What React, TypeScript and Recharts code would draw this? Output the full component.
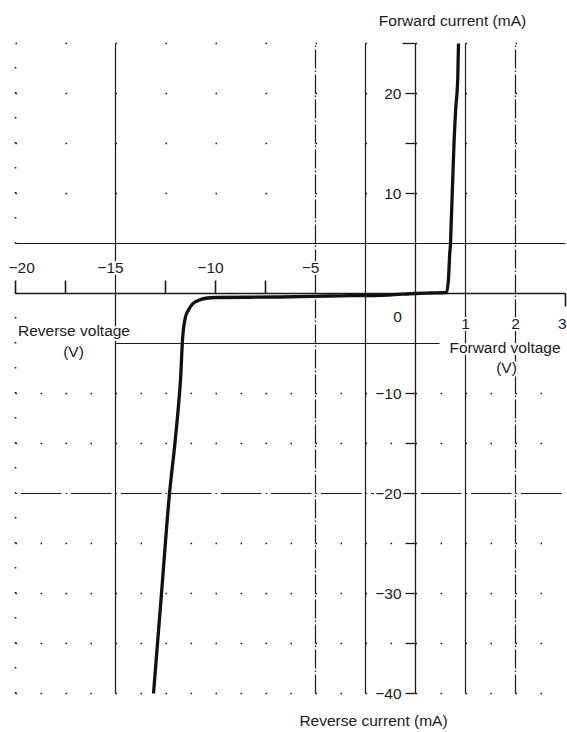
import React from 'react';
import { ComposedChart, Line, XAxis, YAxis, ReferenceLine, ReferenceDot } from 'recharts';

// Diode I–V characteristic
const curveVoltage = [
  -13.1, -12.7, -12.3, -12.03, -11.8, -11.75, -11.65, -11.5, -11.35, -11.15, -10.8, -10.4, -10.0,
  -6.8, -4.3, -1.35, 0, 0.3, 0.62, 0.66, 0.685, 0.7, 0.71, 0.735, 0.77, 0.805, 0.845, 0.86,
];
const curveCurrent = [
  -40, -30, -20, -15, -10, -8.65, -4.65, -2.35, -1.65, -1.05, -0.65, -0.45, -0.4,
  -0.35, -0.25, -0.15, 0.0, 0.05, 0.1, 1.5, 4, 5, 6.5, 10, 15, 18.5, 21.5, 25,
];

// axis values
const reverseVoltageLabels = [-20, -15, -10, -5];
const reverseVoltageMinorTicks = [-20, -17.5, -12.5, -10, -7.5];
const forwardVoltageLabels = [1, 2, 3];
const currentLabels = [20, 10, -10, -20, -30, -40];
const currentTicks = [25, 20, 15, 10, -10, -15, -20, -25, -30, -35, -40];
const solidVerticalVolts = [-15, -2.5, 1];
const dashDotVerticalVolts = [-5, 2];
const sparseDotRows = [25, 20, 15, 10];
const denseDotRows = [-10, -15, -25, -30, -35, -40];

// forward-voltage half of the plot is drawn at 2.5x the scale of the reverse half
const FORWARD_STRETCH = 2.5;
const toPlotX = (v: number) => (v < 0 ? v : v * FORWARD_STRETCH);

const data = curveVoltage.map((v, i) => ({ xp: toPlotX(v), current: curveCurrent[i] }));

const FONT = "'Liberation Sans', Arial, Helvetica, sans-serif";
const INK = '#1a1a1a';

const makeLabel =
  (text: string, dx = 0, dy = 0, anchor: 'start' | 'middle' | 'end' = 'middle') =>
  (props: any) => {
    const vb = props.viewBox || {};
    const x = (vb.x ?? vb.cx ?? 0) + (vb.width || 0) / 2 + dx;
    const y = (vb.y ?? vb.cy ?? 0) + (vb.height || 0) / 2 + dy;
    return (
      <text
        x={x}
        y={y}
        textAnchor={anchor}
        dominantBaseline="central"
        fontFamily={FONT}
        fontSize={15.5}
        fill={INK}
        stroke="#fff"
        strokeWidth={4}
        strokeLinejoin="round"
        paintOrder="stroke"
      >
        {text}
      </text>
    );
  };

const fmt = (n: number) => (n < 0 ? '\u2212' + Math.abs(n) : String(n));

export default function App() {
  return (
    <div style={{ position: 'absolute', left: 0, top: 0, width: 567, height: 732, background: '#fff' }}>
      <ComposedChart width={567} height={732} data={data} margin={{ top: 43.5, right: 1.5, bottom: 38.5, left: 15.5 }}>
        <XAxis dataKey="xp" type="number" domain={[-20, 7.5]} allowDataOverflow hide />
        <YAxis type="number" domain={[-40, 25]} allowDataOverflow hide />

        {/* dotted grid */}
        <ReferenceLine x={-20} stroke={INK} strokeWidth={1.6} strokeDasharray="1.6 23.4" />
        {sparseDotRows.map((r) => (
          <ReferenceLine key={'s' + r} y={r} stroke={INK} strokeWidth={1.6} strokeDasharray="1.6 48.4" />
        ))}
        {denseDotRows.map((r) => (
          <ReferenceLine key={'d' + r} y={r} stroke={INK} strokeWidth={1.6} strokeDasharray="1.6 23.4" />
        ))}

        {/* solid and dash-dot grid lines */}
        {solidVerticalVolts.map((v) => (
          <ReferenceLine key={'v' + v} x={toPlotX(v)} stroke={INK} strokeWidth={1.2} />
        ))}
        {dashDotVerticalVolts.map((v) => (
          <ReferenceLine key={'dv' + v} x={toPlotX(v)} stroke={INK} strokeWidth={1.2} strokeDasharray="19 2.5 1.5 2" />
        ))}
        <ReferenceLine y={5} stroke={INK} strokeWidth={1.2} />
        <ReferenceLine
          segment={[{ x: -15, y: -5 }, { x: 1.2, y: -5 }]}
          stroke={INK}
          strokeWidth={1.2}
        />
        <ReferenceLine y={-20} stroke={INK} strokeWidth={1.2} strokeDasharray="1.5 4 40.5 4" />

        {/* axes */}
        <ReferenceLine y={0} stroke={INK} strokeWidth={1.3} />
        <ReferenceLine x={0} stroke={INK} strokeWidth={1.3} />
        {currentTicks.map((t) => (
          <ReferenceLine
            key={'ct' + t}
            segment={[{ x: t === 25 ? -0.65 : -0.5, y: t }, { x: 0, y: t }]}
            stroke={INK}
            strokeWidth={1.3}
          />
        ))}
        {reverseVoltageMinorTicks.map((t) => (
          <ReferenceLine
            key={'rt' + t}
            segment={[{ x: toPlotX(t), y: 0 }, { x: toPlotX(t), y: 1.3 }]}
            stroke={INK}
            strokeWidth={1.6}
          />
        ))}
        <ReferenceLine
          segment={[{ x: toPlotX(3), y: 0 }, { x: toPlotX(3), y: -1.3 }]}
          stroke={INK}
          strokeWidth={1.6}
        />

        <Line
          dataKey="current"
          type="monotone"
          stroke="#111"
          strokeWidth={3.3}
          dot={false}
          strokeLinecap="round"
          strokeLinejoin="round"
          isAnimationActive={false}
        />

        {/* tick labels */}
        {reverseVoltageLabels.map((v, i) => (
          <ReferenceDot
            key={'rl' + v}
            x={toPlotX(v)}
            y={2.65}
            r={0}
            fill="none"
            stroke="none"
            label={i === 0 ? makeLabel(fmt(v), -7, 0, 'start') : makeLabel(fmt(v), -5, 0)}
          />
        ))}
        {forwardVoltageLabels.map((v, i) => (
          <ReferenceDot
            key={'fl' + v}
            x={toPlotX(v)}
            y={0}
            r={0}
            fill="none"
            stroke="none"
            label={
              i === forwardVoltageLabels.length - 1
                ? makeLabel(String(v), 1, 30, 'end')
                : makeLabel(String(v), 0, 30)
            }
          />
        ))}
        {currentLabels.map((c) => (
          <ReferenceDot
            key={'cl' + c}
            x={0}
            y={c}
            r={0}
            fill="none"
            stroke="none"
            label={makeLabel(fmt(c), -14, 0, 'end')}
          />
        ))}
        <ReferenceDot x={0} y={0} r={0} fill="none" stroke="none" label={makeLabel('0', -18, 23)} />

        {/* axis titles */}
        <ReferenceDot x={4.475} y={-5.4} r={0} fill="none" stroke="none" label={makeLabel('Forward voltage')} />
        <ReferenceDot x={4.55} y={-7.4} r={0} fill="none" stroke="none" label={makeLabel('(V)')} />
        <ReferenceDot x={-17.075} y={-3.7} r={0} fill="none" stroke="none" label={makeLabel('Reverse voltage')} />
        <ReferenceDot x={-17.1} y={-5.8} r={0} fill="none" stroke="none" label={makeLabel('(V)')} />
        <ReferenceDot
          x={1.85}
          y={27.3}
          r={0}
          fill="none"
          stroke="none"
          ifOverflow="visible"
          label={makeLabel('Forward current (mA)')}
        />
        <ReferenceDot
          x={-2.1}
          y={-42.7}
          r={0}
          fill="none"
          stroke="none"
          ifOverflow="visible"
          label={makeLabel('Reverse current (mA)')}
        />
      </ComposedChart>
    </div>
  );
}
